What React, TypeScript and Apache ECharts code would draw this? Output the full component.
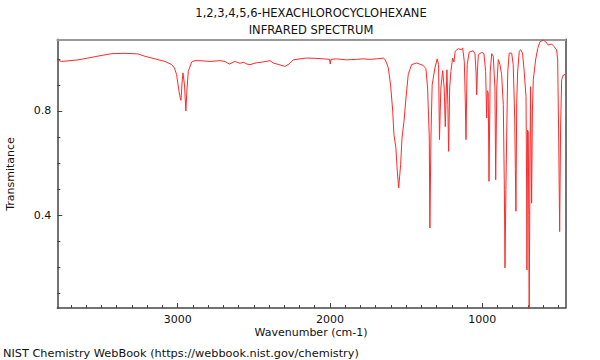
import React, { useEffect, useRef } from "react";
import * as echarts from "echarts";

const titleLines = ["1,2,3,4,5,6-HEXACHLOROCYCLOHEXANE", "INFRARED SPECTRUM"];
const xAxisName = "Wavenumber (cm-1)";
const yAxisName = "Transmitance";
const footer = "NIST Chemistry WebBook (https://webbook.nist.gov/chemistry)";

const xMajorTicks = [1000, 2000, 3000];
const xMinorTicks = [500, 600, 700, 800, 900, 1100, 1200, 1300, 1400, 1500, 1600, 1700, 1800, 1900, 2100, 2200, 2300, 2400, 2500, 2600, 2700, 2800, 2900, 3100, 3200, 3300, 3400, 3500, 3600, 3700];
const yMajorTicks = [0.4, 0.8];
const yMinorTicks = [0.1, 0.2, 0.3, 0.5, 0.6, 0.7, 0.9, 1.0];

const wavenumbers = [
  3790, 3762, 3707, 3654, 3589, 3510, 3431, 3346, 3261, 3215, 3149, 3083, 3039, 3021, 3007, 2991, 2983, 2978, 2972, 2965, 2955, 2946, 2939, 2930, 2908, 2886,
  2854, 2788, 2722, 2689, 2661, 2624, 2591, 2569, 2545, 2525, 2481, 2440, 2394, 2372, 2335, 2296, 2269, 2241, 2197, 2153, 2099, 2044, 2003, 1998, 1994, 1956, 1891, 1825, 1783, 1738, 1692, 1650,
  1639, 1628, 1617, 1602, 1588, 1580, 1567, 1558, 1549, 1536, 1527, 1514, 1501, 1486, 1464, 1431, 1388, 1370, 1359, 1348, 1344, 1337, 1329, 1311, 1296,
  1287, 1281, 1272, 1260, 1250, 1243, 1237, 1232, 1226, 1221, 1214, 1206, 1195, 1186, 1178, 1158, 1136, 1129, 1118, 1112, 1107, 1103, 1099, 1086, 1059, 1048,
  1041, 1037, 1032, 1026, 1004, 989, 978, 971, 967, 961, 956, 948, 938, 928, 917, 912, 905, 895, 884, 873, 862, 855, 851, 845, 840, 833, 823, 807, 797,
  787, 783, 779, 774, 768, 757, 748, 736, 726, 713, 709, 707, 703, 698, 695, 692, 687, 683, 676, 671, 665, 650, 636, 621, 600, 584, 567, 545, 528, 512,
  505, 499, 492, 486, 479, 468, 455,
];
const transmittance = [
  0.995, 0.99, 0.993, 0.996, 1.003, 1.012, 1.02, 1.021, 1.019, 1.01, 1.0, 0.99, 0.978, 0.965, 0.94, 0.875, 0.85, 0.841, 0.9, 0.946, 0.9, 0.8, 0.88, 0.952, 0.988, 0.993,
  0.993, 0.99, 0.993, 0.99, 0.98, 0.99, 0.983, 0.987, 0.98, 0.978, 0.985, 0.988, 0.993, 0.984, 0.978, 0.971, 0.98, 0.996, 1.0, 1.003, 1.002, 1.0, 0.998, 0.98, 0.998, 1.0, 0.996, 0.998, 1.0, 0.998, 1.0, 1.003,
  0.998, 0.984, 0.965, 0.9, 0.8, 0.71, 0.658, 0.569, 0.505, 0.594, 0.696, 0.76, 0.85, 0.94, 0.978, 0.984, 0.975, 0.962, 0.888, 0.7, 0.351, 0.7, 0.9, 0.965, 1.0,
  0.978, 0.69, 0.888, 0.955, 0.888, 0.74, 0.862, 0.958, 0.824, 0.645, 0.888, 0.952, 1.003, 0.988, 1.029, 1.039, 1.035, 1.042, 0.99, 0.85, 0.69, 0.85, 0.978, 1.026, 1.031, 1.019,
  0.95, 0.862, 0.95, 1.016, 1.025, 1.02, 0.952, 0.773, 0.878, 0.87, 0.53, 0.95, 1.02, 1.01, 0.888, 0.536, 0.888, 0.997, 0.978, 0.94, 0.824, 0.5, 0.198, 0.5, 0.7, 0.95, 1.022, 1.022, 0.978,
  0.773, 0.58, 0.415, 0.83, 0.95, 1.029, 1.035, 1.022, 0.96, 0.855, 0.5, 0.19, 0.727, 0.72, 0.4, 0.02, 0.6, 0.893, 0.446, 0.8, 0.92, 0.996, 1.04, 1.066, 1.072, 1.066, 1.053, 1.057, 1.047, 1.034,
  0.996, 0.727, 0.337, 0.727, 0.92, 0.938, 0.94,
];

const X_MIN = 455;
const X_MAX = 3790;
const Y_MIN = 0.044;
const Y_MAX = 1.075;

export default function App() {
  const ref = useRef<HTMLDivElement>(null);
  useEffect(() => {
    if (!ref.current) return;
    const chart = echarts.init(ref.current, null, { renderer: "svg" });
    const font = "DejaVu Sans";
    const data = wavenumbers.map((w, i) => [w, transmittance[i]]);
    const baseX = { type: "value", min: X_MIN, max: X_MAX, inverse: true, splitLine: { show: false } };
    const baseY = { type: "value", min: Y_MIN, max: Y_MAX, splitLine: { show: false } };
    chart.setOption({
      animation: false,
      backgroundColor: "#ffffff",
      grid: { left: 57.3, right: 34.7, top: 39.3, bottom: 52, containLabel: false },
      xAxis: [
        {
          ...baseX,
          position: "bottom",
          axisLine: { show: true, lineStyle: { color: "#444", width: 1.5 } },
          axisTick: { show: true, inside: true, length: 5, customValues: xMajorTicks, lineStyle: { color: "#444" } },
          axisLabel: {
            show: true,
            customValues: xMajorTicks,
            color: "#111",
            fontFamily: font,
            fontSize: 11,
            margin: 6,
            formatter: (v: number) => String(Math.round(v)),
          },
        },
        {
          ...baseX,
          position: "bottom",
          axisLine: { show: false },
          axisTick: { show: true, inside: true, length: 3, customValues: xMinorTicks, lineStyle: { color: "#444" } },
          axisLabel: { show: false },
        },
        {
          ...baseX,
          position: "top",
          axisLine: { show: true, lineStyle: { color: "#999", width: 2 } },
          axisTick: { show: false },
          axisLabel: { show: false },
        },
      ],
      yAxis: [
        {
          ...baseY,
          position: "left",
          axisLine: { show: true, lineStyle: { color: "#444", width: 1.5 } },
          axisTick: { show: true, inside: true, length: 5, customValues: yMajorTicks, lineStyle: { color: "#444" } },
          axisLabel: {
            show: true,
            customValues: yMajorTicks,
            color: "#111",
            fontFamily: font,
            fontSize: 11,
            margin: 6,
            formatter: (v: number) => v.toFixed(1),
          },
        },
        {
          ...baseY,
          position: "left",
          axisLine: { show: false },
          axisTick: { show: true, inside: true, length: 3, customValues: yMinorTicks, lineStyle: { color: "#444" } },
          axisLabel: { show: false },
        },
        {
          ...baseY,
          position: "right",
          axisLine: { show: true, lineStyle: { color: "#444", width: 1.5 } },
          axisTick: { show: false },
          axisLabel: { show: false },
        },
      ],
      series: [
        {
          type: "line",
          data,
          xAxisIndex: 0,
          yAxisIndex: 0,
          showSymbol: false,
          symbol: "none",
          clip: true,
          lineStyle: { color: "#ff2a2a", width: 1 },
        },
      ],
      graphic: [
        {
          type: "text",
          x: 311,
          y: 13,
          style: { text: titleLines[0], fontFamily: font, fontSize: 11.5, fill: "#111", textAlign: "center", textVerticalAlign: "middle" },
        },
        {
          type: "text",
          x: 311,
          y: 30,
          style: { text: titleLines[1], fontFamily: font, fontSize: 11.5, fill: "#111", textAlign: "center", textVerticalAlign: "middle" },
        },
        {
          type: "text",
          x: 311,
          y: 332,
          style: { text: xAxisName, fontFamily: font, fontSize: 11, fill: "#111", textAlign: "center", textVerticalAlign: "middle" },
        },
        {
          type: "text",
          x: 10,
          y: 174,
          rotation: Math.PI / 2,
          style: { text: yAxisName, fontFamily: font, fontSize: 11, fill: "#111", textAlign: "center", textVerticalAlign: "middle" },
        },
        {
          type: "text",
          x: 3,
          y: 353,
          style: { text: footer, fontFamily: font, fontSize: 11.3, fill: "#111", textAlign: "left", textVerticalAlign: "middle" },
        },
      ],
    });
    return () => chart.dispose();
  }, []);
  return <div ref={ref} style={{ position: "fixed", left: 0, top: 0, width: 600, height: 360 }} />;
}
